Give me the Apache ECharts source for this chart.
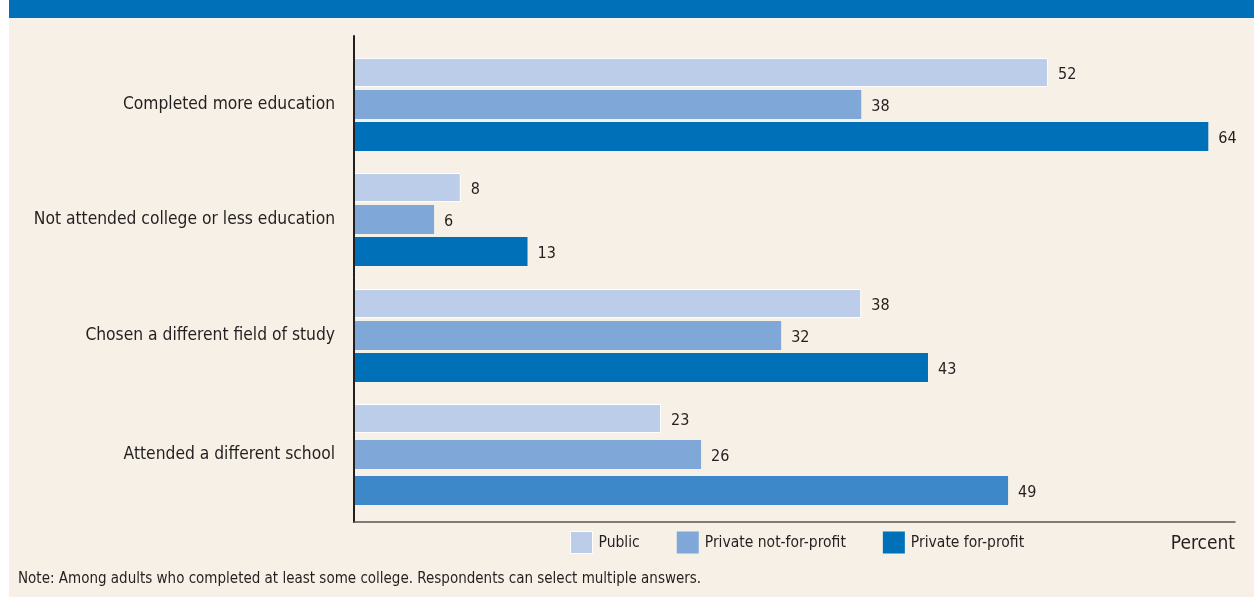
<!DOCTYPE html>
<html><head><meta charset="utf-8">
<script src="https://cdn.jsdelivr.net/npm/echarts@6/dist/echarts.min.js"></script>
<style>html,body{margin:0;padding:0;background:#fff}#c{width:1254px;height:597px}</style>
</head><body><div id="c"></div>
<script>
const categories = ['Completed more education','Not attended college or less education','Chosen a different field of study','Attended a different school'];
const seriesNames = ['Public','Private not-for-profit','Private for-profit'];
const publicVals = [52, 8, 38, 23];
const privateNfpVals = [38, 6, 32, 26];
const privateFpVals = [64, 13, 43, 49];
const noteText = 'Note: Among adults who completed at least some college. Respondents can select multiple answers.';
const unitText = 'Percent';

const FONT = "'Liberation Sans Narrow','DejaVu Sans Condensed',sans-serif";
const colors = ['#bccde9','#7fa7d8','#0070b8'];
const lastBarColor = '#3d88c9';
// grid layout (top, height) per category group
const gridBoxes = [[36,137],[162,115],[278,115],[387,135]];
const gaps = ['10%','10%','10%','24%'];

const grids = [], xAxes = [], yAxes = [], series = [];
categories.forEach((cat, i) => {
  grids.push({left: 354, right: 19, top: gridBoxes[i][0], height: gridBoxes[i][1]});
  xAxes.push({type:'value', gridIndex:i, min:0, max:66, show: true, z: 5,
    axisLine:{show: i===3, lineStyle:{color:'#5a5654', width:1.5}},
    axisTick:{show:false}, axisLabel:{show:false}, splitLine:{show:false}});
  yAxes.push({type:'category', gridIndex:i, data:[cat], inverse:true, z: 5,
    axisLine:{show:true, lineStyle:{color:'#231f20', width:2}},
    axisTick:{show:false},
    axisLabel:{color:'#231f20', fontFamily:FONT, fontSize:17.3, margin:19}});
  const vals = [publicVals[i], privateNfpVals[i], privateFpVals[i]];
  vals.forEach((v, k) => {
    let col = colors[k];
    if (i === 3 && k === 2) col = lastBarColor;
    series.push({type:'bar', name: seriesNames[k], xAxisIndex:i, yAxisIndex:i,
      data:[v], barWidth:29, barGap:gaps[i], silent:true, z:2,
      itemStyle:{color:col, borderColor: k===0 ? '#ffffff' : 'transparent', borderWidth: k===0 ? 1 : 0},
      label:{show:true, position:'right', distance:10, color:'#231f20', fontFamily:FONT, fontSize:16, offset:[0,2]}});
  });
});

const chart = echarts.init(document.getElementById('c'), null, {renderer:'canvas'});
chart.setOption({
  animation:false,
  backgroundColor:'#ffffff',
  graphic:[
    {type:'rect', z:-10, shape:{x:9,y:0,width:1245,height:597}, style:{fill:'#f7f0e6'}},
    {type:'rect', z:-9, shape:{x:9,y:0,width:1245,height:18}, style:{fill:'#0070b8'}},
    {type:'text', right:19, top:535, style:{text:unitText, fill:'#231f20', font:'19px '+FONT}},
    {type:'text', left:18, top:572, style:{text:noteText, fill:'#231f20', font:'15px '+FONT}}
  ],
  legend:{left:570, top:531, padding:0, itemWidth:22, itemHeight:22, itemGap:37, icon:'rect',
    data:[
      {name:'Public', itemStyle:{color:colors[0], borderColor:'#fff', borderWidth:1}},
      {name:'Private not-for-profit', itemStyle:{color:colors[1]}},
      {name:'Private for-profit', itemStyle:{color:colors[2]}}
    ],
    textStyle:{color:'#231f20', fontFamily:FONT, fontSize:15.5, padding:[0,0,0,1]}, selectedMode:false},
  grid:grids, xAxis:xAxes, yAxis:yAxes, series:series
});
</script></body></html>
